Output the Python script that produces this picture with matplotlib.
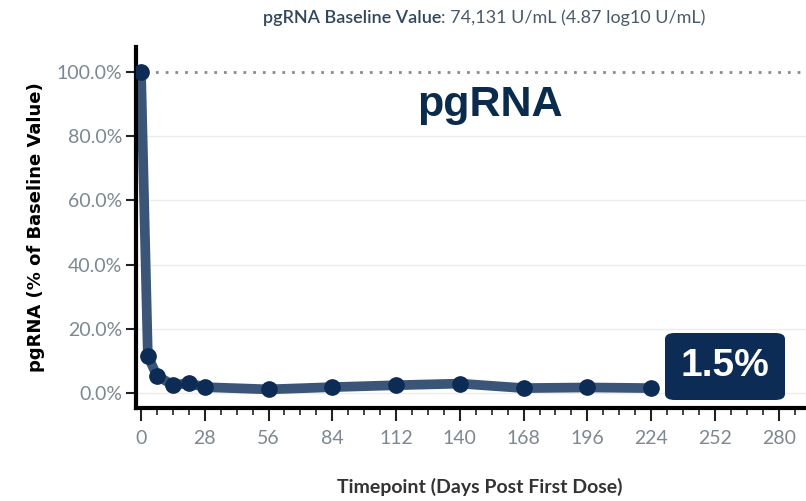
import matplotlib.pyplot as plt
from matplotlib.ticker import MultipleLocator, FuncFormatter
from matplotlib.patches import FancyBboxPatch

days = [0, 3, 7, 14, 21, 28, 56, 84, 112, 140, 168, 196, 224]
pct = [100.0, 11.5, 5.3, 2.5, 3.0, 1.8, 1.1, 1.8, 2.4, 2.9, 1.5, 1.7, 1.5]
x_ticks = [0, 28, 56, 84, 112, 140, 168, 196, 224, 252, 280]
y_ticks = [0, 20, 40, 60, 80, 100]
last_label = "1.5%"

navy = '#0c2b55'
line_col = '#3b5578'
tick_col = '#7d8791'

fig = plt.figure(figsize=(8.06, 5.01), dpi=100)
ax = fig.add_axes([136 / 806, 1 - 408 / 501, 1 - 136 / 806, (408 - 47) / 501])
ax.set_xlim(-2.2, 292)
ax.set_ylim(-4.7, 107.8)

# grid and baseline reference
for v in y_ticks[:-1]:
    ax.axhline(v, color='#ececec', lw=1, zorder=0)
ax.axhline(100, color='#8a8a8a', lw=2, ls=(0, (1, 2.5)), zorder=1)

ax.plot(days, pct, color=line_col, lw=7, solid_capstyle='round', zorder=2)
ax.plot(days, pct, 'o', color=navy, ms=11, zorder=3)

ax.set_xticks(x_ticks)
ax.xaxis.set_minor_locator(MultipleLocator(7))
ax.set_yticks(y_ticks)
ax.yaxis.set_major_formatter(FuncFormatter(lambda v, p: f'{v:.1f}%'))

for s in ['top', 'right']:
    ax.spines[s].set_visible(False)
for s in ['left', 'bottom']:
    ax.spines[s].set_linewidth(3)
    ax.spines[s].set_color('black')

ax.tick_params(axis='x', which='major', length=9, width=1.5, color='#222222', pad=7,
               labelsize=14, labelcolor=tick_col)
ax.tick_params(axis='x', which='minor', length=5, width=1.2, color='#222222')
ax.tick_params(axis='y', which='major', length=7, width=1.5, color='#222222', pad=3,
               labelsize=14, labelcolor=tick_col)
for lab in ax.get_xticklabels() + ax.get_yticklabels():
    lab.set_fontfamily('Lato')

ax.set_ylabel('pgRNA (% of Baseline Value)', fontsize=13, fontweight='bold',
              color='black', labelpad=8, fontfamily='DejaVu Sans')
fig.text(480 / 806, 1 - 487 / 501, 'Timepoint (Days Post First Dose)', ha='center',
         va='center', fontsize=14, fontweight='bold', color='#333333', fontfamily='Lato')

# large series name
ax.text(490 / 806, 1 - 105 / 501, 'pgRNA', transform=fig.transFigure, ha='center',
        va='center', fontsize=31, fontweight='bold', color='#0b2b4c',
        fontfamily='Liberation Sans')

# value box
box = FancyBboxPatch((665 / 806, 1 - 400 / 501), 120 / 806, 67 / 501,
                     boxstyle='round,pad=0,rounding_size=0.012', transform=fig.transFigure,
                     facecolor=navy, edgecolor='none', zorder=5)
fig.patches.append(box)
fig.text(725 / 806, 1 - 366 / 501, last_label, ha='center', va='center', fontsize=28,
         fontweight='bold', color='white', fontfamily='Liberation Sans', zorder=6)

# title in two parts
fig.canvas.draw()
r = fig.canvas.get_renderer()
t1 = fig.text(263 / 806, 1 - 18 / 501, 'pgRNA Baseline Value', ha='left', va='center',
              fontsize=13, fontweight='semibold', color='#33475b', fontfamily='Lato')
bb = t1.get_window_extent(renderer=r)
fig.text(bb.x1 / fig.bbox.width, 1 - 18 / 501, ': 74,131 U/mL (4.87 log10 U/mL)',
         ha='left', va='center', fontsize=13, color='#4b5a68', fontfamily='Lato')

fig.savefig('out.png', dpi=100)
